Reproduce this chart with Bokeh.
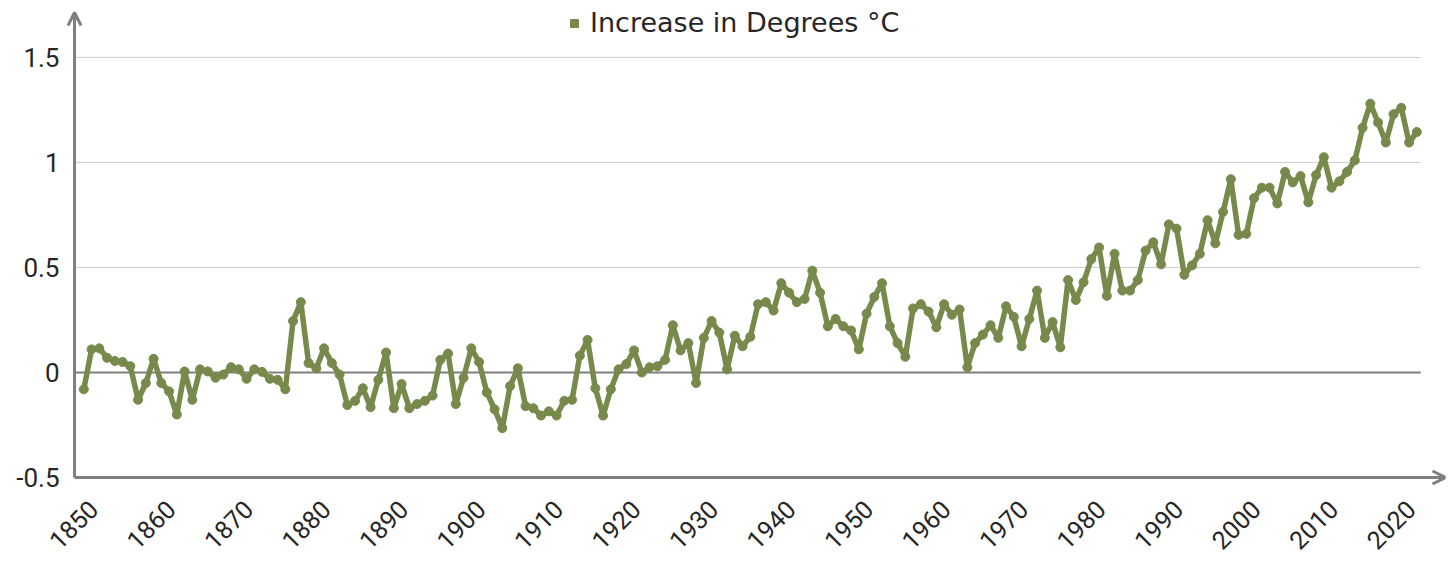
import math
from bokeh.plotting import figure
from bokeh.models import (ColumnDataSource, FixedTicker, Range1d, Legend, LegendItem,
                          Arrow, OpenHead)
from bokeh.embed import file_html
from bokeh.resources import INLINE

start_year = 1850
anomaly = [
    -0.08, 0.11, 0.115, 0.07, 0.055, 0.05, 0.03, -0.13, -0.05, 0.065,
    -0.05, -0.09, -0.2, 0.005, -0.13, 0.015, 0.005, -0.025, -0.01, 0.025,
    0.015, -0.03, 0.015, 0.003, -0.03, -0.035, -0.08, 0.245, 0.335, 0.045,
    0.02, 0.115, 0.045, -0.01, -0.155, -0.135, -0.075, -0.165, -0.035, 0.095,
    -0.17, -0.055, -0.17, -0.15, -0.135, -0.11, 0.06, 0.09, -0.15, -0.025,
    0.115, 0.05, -0.095, -0.175, -0.265, -0.065, 0.02, -0.16, -0.17, -0.205,
    -0.185, -0.205, -0.135, -0.13, 0.08, 0.155, -0.075, -0.205, -0.08, 0.015,
    0.04, 0.105, 0.0, 0.025, 0.03, 0.06, 0.225, 0.105, 0.14, -0.05,
    0.165, 0.245, 0.19, 0.015, 0.175, 0.125, 0.17, 0.325, 0.335, 0.295,
    0.425, 0.38, 0.335, 0.35, 0.485, 0.38, 0.22, 0.255, 0.22, 0.2,
    0.11, 0.28, 0.36, 0.425, 0.22, 0.14, 0.075, 0.305, 0.325, 0.29,
    0.215, 0.325, 0.275, 0.3, 0.025, 0.14, 0.18, 0.225, 0.165, 0.315,
    0.265, 0.125, 0.255, 0.39, 0.165, 0.24, 0.12, 0.44, 0.345, 0.43,
    0.54, 0.595, 0.365, 0.565, 0.39, 0.39, 0.44, 0.58, 0.62, 0.515,
    0.705, 0.685, 0.465, 0.51, 0.565, 0.725, 0.615, 0.765, 0.92, 0.655,
    0.66, 0.83, 0.88, 0.88, 0.805, 0.955, 0.905, 0.935, 0.81, 0.94,
    1.025, 0.88, 0.91, 0.955, 1.01, 1.165, 1.28, 1.19, 1.095, 1.23,
    1.26, 1.095, 1.145,
]
years = list(range(start_year, start_year + len(anomaly)))
x_tick_years = list(range(1850, 2021, 10))
y_ticks = [-0.5, 0, 0.5, 1, 1.5]
y_labels = {-0.5: "-0.5", 0: "0", 0.5: "0.5", 1: "1", 1.5: "1.5"}
series_name = "Increase in Degrees °C"

GREEN = "#77894B"
AXIS_GRAY = "#7f7f7f"
TEXT = "#262626"
NUM_FONT = "Roboto"
LEG_FONT = "DejaVu Sans"

# view extents (frame padded so that the axis arrow heads are not clipped)
x0, x1 = 1846.99, 2025.7
y0, y1 = -0.538, 1.752
x_axis_pos = 1848.8     # where the vertical axis line stands
y_axis_pos = -0.5       # where the horizontal axis line stands
y_arrow_top = 1.714
x_grid_end = 2022.5
label_shift = 1.2       # rotated labels sit slightly right of their year

p = figure(width=1448, height=560, output_backend="svg", toolbar_location=None,
           x_range=Range1d(x0, x1), y_range=Range1d(y0, y1),
           min_border_left=60, min_border_right=3, min_border_top=4, min_border_bottom=74)
p.outline_line_color = None
p.background_fill_color = "white"
p.border_fill_color = "white"
p.xgrid.visible = False
p.ygrid.visible = False

grid_vals = [v for v in y_ticks if v > 0]
p.segment(x0=[x_axis_pos] * len(grid_vals), x1=[x_grid_end] * len(grid_vals),
          y0=grid_vals, y1=grid_vals, line_color="#cccccc", line_width=1)
p.segment(x0=[x_axis_pos], x1=[x_grid_end], y0=[0], y1=[0], line_color=AXIS_GRAY, line_width=2)

src = ColumnDataSource(dict(year=years, val=anomaly))
p.line("year", "val", source=src, line_color=GREEN, line_width=5.5, line_join="round")
p.scatter("year", "val", source=src, marker="circle", size=9, fill_color=GREEN, line_color=GREEN)

tick_pos = [y + label_shift for y in x_tick_years]
p.xaxis.ticker = FixedTicker(ticks=tick_pos)
p.xaxis.major_label_overrides = {t: str(y) for t, y in zip(tick_pos, x_tick_years)}
p.xaxis.major_label_orientation = math.pi / 4
p.yaxis.ticker = FixedTicker(ticks=y_ticks)
p.yaxis.major_label_overrides = y_labels
for ax in (p.xaxis, p.yaxis):
    ax.axis_line_color = None
    ax.major_tick_line_color = None
    ax.minor_tick_line_color = None
    ax.major_label_text_font = NUM_FONT
    ax.major_label_text_color = TEXT
p.yaxis.major_tick_out = 0
p.yaxis.major_tick_in = 0
p.yaxis.major_label_text_font_size = "26px"
p.xaxis.major_label_text_font_size = "25px"
p.yaxis.major_label_standoff = 1
p.xaxis.major_label_standoff = 13

# axis lines with arrow heads
p.add_layout(Arrow(end=OpenHead(size=13, line_color=AXIS_GRAY, line_width=3),
                   x_start=x_axis_pos, y_start=y_axis_pos, x_end=x_axis_pos, y_end=y_arrow_top,
                   line_color=AXIS_GRAY, line_width=3))
p.add_layout(Arrow(end=OpenHead(size=13, line_color=AXIS_GRAY, line_width=3),
                   x_start=x_axis_pos, y_start=y_axis_pos, x_end=x1, y_end=y_axis_pos,
                   line_color=AXIS_GRAY, line_width=3))

leg_src = ColumnDataSource(dict(x=[float("nan")], y=[float("nan")]))
sq = p.scatter("x", "y", source=leg_src, marker="square", size=8, fill_color=GREEN, line_color=GREEN)
legend = Legend(items=[LegendItem(label=series_name, renderers=[sq])], location=(504, 447),
                orientation="horizontal", padding=0, margin=0, spacing=0,
                glyph_width=20, glyph_height=20, label_standoff=6,
                label_text_font=LEG_FONT, label_text_font_size="27px", label_text_color=TEXT,
                border_line_color=None, background_fill_alpha=0)
p.add_layout(legend)

open("out.html", "w").write(file_html(p, INLINE))
